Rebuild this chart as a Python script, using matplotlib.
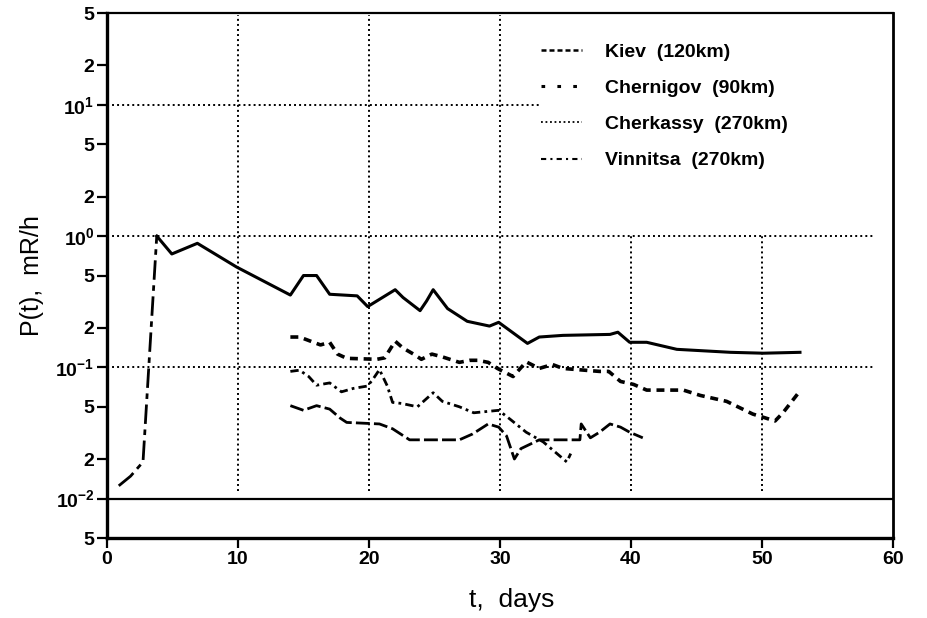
import numpy as np
import matplotlib
matplotlib.use('Agg')
import matplotlib.pyplot as plt
from matplotlib.lines import Line2D

# --- data ---
kiev_t = [0.9, 1.8, 2.75, 3.8, 4.95, 6.9, 9.9, 14.0, 15.0, 16.0, 17.0, 19.1, 19.9,
          22.0, 22.6, 23.9, 24.4, 24.9, 26.0, 27.5, 29.2, 29.9, 32.1, 33.0, 34.8,
          38.4, 39.0, 39.9, 41.2, 43.5, 47.6, 50.1, 52.9]
kiev_p = [0.0125, 0.0148, 0.019, 1.0, 0.73, 0.88, 0.58, 0.355, 0.50, 0.50, 0.36, 0.35, 0.29,
          0.39, 0.34, 0.27, 0.32, 0.39, 0.28, 0.224, 0.206, 0.22, 0.152, 0.17, 0.175,
          0.178, 0.185, 0.155, 0.155, 0.137, 0.130, 0.128, 0.130]

chern_t = [14.0, 14.7, 16.3, 17.0, 17.6, 18.3, 20.6, 21.2, 22.0, 22.6, 23.4, 24.0, 24.8,
           25.6, 26.9, 27.7, 28.3, 29.1, 29.8, 31.0, 32.0, 33.0, 34.0, 34.8, 37.6, 38.3,
           39.2, 40.2, 41.2, 44.0, 45.3, 47.3, 49.3, 51.0, 51.6, 52.9]
chern_p = [0.17, 0.17, 0.148, 0.155, 0.126, 0.117, 0.115, 0.118, 0.158, 0.14, 0.126, 0.115, 0.126,
           0.12, 0.109, 0.113, 0.113, 0.109, 0.098, 0.085, 0.11, 0.098, 0.105, 0.098, 0.093, 0.093,
           0.078, 0.074, 0.067, 0.067, 0.061, 0.055, 0.044, 0.039, 0.045, 0.066]

cherk_t = [14.0, 14.7, 15.4, 16.0, 17.0, 17.9, 18.8, 19.9, 20.3, 20.8, 21.4, 21.8, 22.5,
           23.7, 24.9, 25.6, 26.9, 28.0, 29.9, 30.8, 32.0, 33.3, 35.1, 35.4]
cherk_p = [0.093, 0.095, 0.085, 0.073, 0.076, 0.065, 0.069, 0.072, 0.081, 0.096, 0.072, 0.054, 0.053,
           0.050, 0.064, 0.055, 0.050, 0.045, 0.047, 0.040, 0.032, 0.027, 0.019, 0.022]

vinn_t = [14.0, 15.0, 16.0, 17.0, 17.8, 18.3, 20.8, 21.8, 23.1, 26.9, 27.9, 29.1, 29.9,
          30.5, 31.1, 31.6, 33.0, 36.1, 36.2, 36.9, 37.6, 38.4, 39.2, 39.9, 40.9]
vinn_p = [0.051, 0.047, 0.051, 0.048, 0.041, 0.038, 0.037, 0.034, 0.028, 0.028, 0.031, 0.037, 0.035,
          0.030, 0.020, 0.024, 0.028, 0.028, 0.037, 0.029, 0.032, 0.037, 0.035, 0.032, 0.029]

labels = ['Kiev  (120km)', 'Chernigov  (90km)', 'Cherkassy  (270km)', 'Vinnitsa  (270km)']

ytick_vals = [5e-3, 1e-2, 2e-2, 5e-2, 1e-1, 2e-1, 5e-1, 1, 2, 5, 10, 20, 50]
ytick_txt = ['5', r'$\mathbf{10^{-2}}$', '2', '5', r'$\mathbf{10^{-1}}$', '2', '5',
             r'$\mathbf{10^{0}}$', '2', '5', r'$\mathbf{10^{1}}$', '2', '5']
xtick_vals = [0, 10, 20, 30, 40, 50, 60]

plt.rcParams['font.family'] = ['Liberation Sans', 'DejaVu Sans']
plt.rcParams['font.weight'] = 'bold'
plt.rcParams['mathtext.fontset'] = 'custom'
plt.rcParams['mathtext.bf'] = 'Liberation Sans:bold'
plt.rcParams['mathtext.rm'] = 'Liberation Sans:bold'
plt.rcParams['mathtext.default'] = 'bf'

fig = plt.figure(figsize=(9.27, 6.18), dpi=100)
ax = fig.add_axes([0.1154, 0.1294, 0.8479, 0.8495])
ax.set_yscale('log')
ax.set_xlim(0, 60)
ax.set_ylim(5e-3, 50)

# dotted grid, as broken as in the print
gkw = dict(color='black', linestyle=(0, (1, 1.6)), linewidth=1.4, zorder=1)
ax.plot([0, 33], [10, 10], **gkw)
ax.plot([0, 58.5], [1, 1], **gkw)
ax.plot([0, 58.5], [0.1, 0.1], **gkw)
for xv in (10, 20, 30):
    ax.plot([xv, xv], [1.15e-2, 48], **gkw)
for xv in (40, 50):
    ax.plot([xv, xv], [1.15e-2, 1], **gkw)
ax.axhline(1e-2, color='black', linewidth=1.6, zorder=2)

# curves
ax.plot(kiev_t[:4], kiev_p[:4], color='black', lw=2.0, linestyle=(0, (7, 2, 2, 2)), zorder=3)
ax.plot(kiev_t[3:], kiev_p[3:], color='black', lw=2.2, linestyle='-', zorder=3)
ax.plot(chern_t, chern_p, color='black', lw=2.6, linestyle=(0, (2.2, 1.6)), zorder=3)
ax.plot(cherk_t, cherk_p, color='black', lw=2.0, linestyle=(0, (3, 1.5, 1, 1.5)), zorder=3)
ax.plot(vinn_t, vinn_p, color='black', lw=2.0, linestyle=(0, (5, 1.5)), zorder=3)

# legend with the styles printed in the key
handles = [
    Line2D([], [], color='black', lw=1.8, linestyle=(0, (2, 1.2))),
    Line2D([], [], color='black', lw=2.2, linestyle=(0, (1.2, 4))),
    Line2D([], [], color='black', lw=1.3, linestyle=(0, (1, 1.5))),
    Line2D([], [], color='black', lw=1.5, linestyle=(0, (2.5, 2, 1, 2))),
]
ax.legend(handles, labels, loc='upper left', bbox_to_anchor=(0.552, 0.942),
          frameon=False, fontsize=14, handlelength=2.1, handletextpad=1.2,
          labelspacing=0.95, borderpad=0, borderaxespad=0)

ax.set_yticks(ytick_vals)
ax.set_yticklabels(ytick_txt)
ax.yaxis.set_minor_locator(matplotlib.ticker.NullLocator())
ax.set_xticks(xtick_vals)
ax.tick_params(axis='both', direction='out', length=7, width=1.6, labelsize=14, pad=2)

for s in ('left', 'bottom'):
    ax.spines[s].set_linewidth(2.4)
ax.spines['top'].set_linewidth(1.6)
ax.spines['right'].set_linewidth(2.0)

ax.set_xlabel('t,  days', fontsize=19)
ax.xaxis.set_label_coords(0.515, -0.095)
ax.set_ylabel('P(t),  mR/h', fontsize=18, labelpad=8)

fig.savefig('out.png', dpi=100)
